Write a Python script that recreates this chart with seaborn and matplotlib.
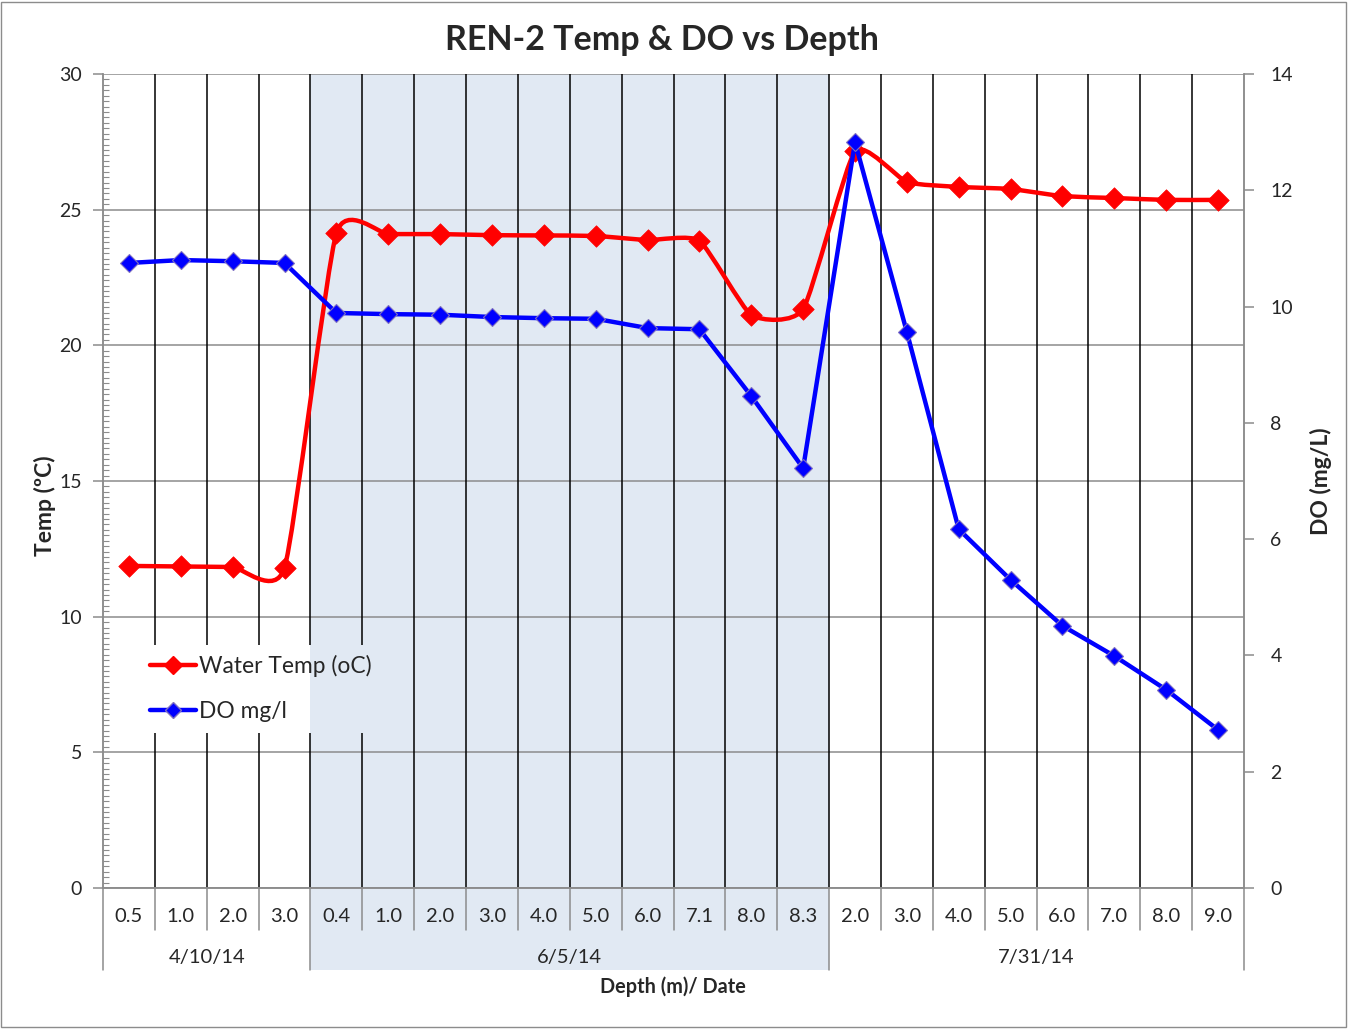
import numpy as np
import seaborn as sns
import matplotlib
matplotlib.use("Agg")
from matplotlib import pyplot as plt
from matplotlib.path import Path
from matplotlib.patches import PathPatch, Rectangle
from matplotlib.lines import Line2D
from matplotlib.transforms import blended_transform_factory

depths = ["0.5", "1.0", "2.0", "3.0",
          "0.4", "1.0", "2.0", "3.0", "4.0", "5.0", "6.0", "7.1", "8.0", "8.3",
          "2.0", "3.0", "4.0", "5.0", "6.0", "7.0", "8.0", "9.0"]
dates = ["4/10/14", "6/5/14", "7/31/14"]
group_sizes = [4, 10, 8]
water_temp = [11.87, 11.85, 11.83, 11.80,
              24.14, 24.10, 24.10, 24.06, 24.05, 24.03, 23.88, 23.85, 21.12, 21.34,
              27.15, 26.02, 25.84, 25.76, 25.50, 25.43, 25.36, 25.36]
do_mgl = [10.75, 10.80, 10.78, 10.75,
          9.89, 9.87, 9.86, 9.82, 9.80, 9.79, 9.63, 9.61, 8.46, 7.22,
          12.83, 9.56, 6.17, 5.30, 4.51, 3.99, 3.41, 2.72]

RED = "#FF0000"
BLUE = "#0000FF"
SHADE = "#E1E9F3"
GRAY = "#8C8C8C"


def smooth_path(x, y, f=0.09):
    # bezier curve through the points, like excel's "smoothed line"
    n = len(x)
    verts = [(x[0], y[0])]
    codes = [Path.MOVETO]
    for i in range(n - 1):
        a = max(i - 1, 0)
        b = min(i + 2, n - 1)
        c1 = (x[i] + f * (x[i + 1] - x[a]), y[i] + f * (y[i + 1] - y[a]))
        c2 = (x[i + 1] - f * (x[b] - x[i]), y[i + 1] - f * (y[b] - y[i]))
        verts += [c1, c2, (x[i + 1], y[i + 1])]
        codes += [Path.CURVE4] * 3
    return Path(verts, codes)


sns.set_theme(style="white")
plt.rcParams["font.family"] = ["Lato", "DejaVu Sans"]

fig = plt.figure(figsize=(13.49, 10.29), dpi=100)
ax = fig.add_axes([103 / 1349, 1 - 888 / 1029, 1141 / 1349, 814 / 1029])
ax2 = ax.twinx()

xs = np.arange(len(depths))
ax.set_xlim(-0.5, len(depths) - 0.5)
ax.set_ylim(0, 30)
ax2.set_ylim(0, 14)

trans = blended_transform_factory(ax.transData, ax.transAxes)

# shaded date group
bounds = np.cumsum([0] + group_sizes) - 0.5
ax.add_patch(Rectangle((bounds[1], -0.1007), bounds[2] - bounds[1], 1.1007,
                       transform=trans, facecolor=SHADE, edgecolor="none",
                       zorder=0.2, clip_on=False))

# grid
for v in range(0, 31, 5):
    ax.axhline(v, color=GRAY, lw=1.1, zorder=0.5)
for b in np.arange(0.5, len(depths) - 1, 1.0):
    ax.axvline(b, color="black", lw=1.1, zorder=0.6)

# legend background (white box, shading shows through at the right)
ax.add_patch(Rectangle((0.37, 5.71), bounds[1] - 0.37, 3.25, facecolor="white",
                       edgecolor="none", zorder=0.8))
ax.add_patch(Rectangle((bounds[1], 5.71), 1.25, 3.25, facecolor=SHADE,
                       edgecolor="none", zorder=0.8))

# water temp: smoothed line + markers
ax.add_patch(PathPatch(smooth_path(xs, water_temp), fill=False, edgecolor=RED,
                       lw=3.2, zorder=3))
sns.scatterplot(x=xs, y=water_temp, ax=ax, marker="D", s=120, color=RED,
                edgecolor=RED, linewidth=0.5, zorder=4, legend=False)

# DO: straight line + markers
sns.lineplot(x=xs, y=do_mgl, ax=ax2, color=BLUE, lw=3.2, marker="D",
             markersize=9, markerfacecolor=BLUE, markeredgecolor="#7F70C0",
             markeredgewidth=0.8, zorder=3, legend=False)

# axes styling
for a in (ax, ax2):
    for s in a.spines.values():
        s.set_color(GRAY)
        s.set_linewidth(1.1)
    a.spines["top"].set_visible(False)
    a.set_xticks([])
ax.set_yticks(range(0, 31, 5))
ax.set_yticks(np.arange(0, 30.01, 0.2), minor=True)
ax.tick_params(axis="y", which="major", direction="out", length=7, width=1.1,
               color=GRAY, labelsize=14, pad=8, left=True)
ax.tick_params(axis="y", which="minor", direction="in", length=4, width=0.8,
               color=GRAY, left=True)
ax2.set_yticks(range(0, 15, 2))
ax2.tick_params(axis="y", direction="out", length=7, width=1.1, color=GRAY,
                labelsize=14, pad=12, right=True)

ax.set_ylabel("Temp (ºC)", fontsize=16.5, fontweight="bold")
ax.yaxis.set_label_coords(-0.041, 0.47)
ax2.set_ylabel("DO (mg/L)", fontsize=16.5, fontweight="bold", rotation=90)
ax2.yaxis.set_label_coords(1.058, 0.5)

# category axis: depth labels and date groups
for x, d in zip(xs, depths):
    ax.text(x, -0.0344, d, transform=trans, ha="center", va="center", fontsize=14.5)
for b in np.arange(0.5, len(depths) - 1, 1.0):
    if b in bounds:
        continue
    ax.plot([b, b], [0, -0.0516], transform=trans, color=GRAY, lw=1.1, clip_on=False)
for b in bounds:
    ax.plot([b, b], [0, -0.1007], transform=trans, color=GRAY, lw=1.1, clip_on=False)
for i, lab in enumerate(dates):
    ax.text((bounds[i] + bounds[i + 1]) / 2, -0.0848, lab, transform=trans,
            ha="center", va="center", fontsize=14.5)

fig.text(673 / 1349, 1 - 987 / 1029, "Depth (m)/ Date", ha="center", va="center",
         fontsize=14.3, fontweight="bold")
fig.suptitle("REN-2 Temp & DO vs Depth", x=662 / 1349, y=1 - 40 / 1029,
             va="center", fontsize=24.5, fontweight="bold")

handles = [Line2D([], [], color=RED, lw=3.2, marker="D", markersize=9.5),
           Line2D([], [], color=BLUE, lw=3.2, marker="D", markersize=8,
                  markeredgecolor="#7F70C0")]
ax2.legend(handles, ["Water Temp (oC)", "DO mg/l"], loc="upper left",
           bbox_to_anchor=((150 - 103) / 1141, (888 - 655) / 814),
           frameon=False, fontsize=16.4, handlelength=2.0, handletextpad=0.15,
           labelspacing=1.05, borderpad=0, borderaxespad=0)

fig.patches.append(Rectangle((0.001, 0.002), 0.997, 0.996, transform=fig.transFigure,
                             fill=False, edgecolor=GRAY, lw=1))

fig.savefig("out.png", dpi=100)
